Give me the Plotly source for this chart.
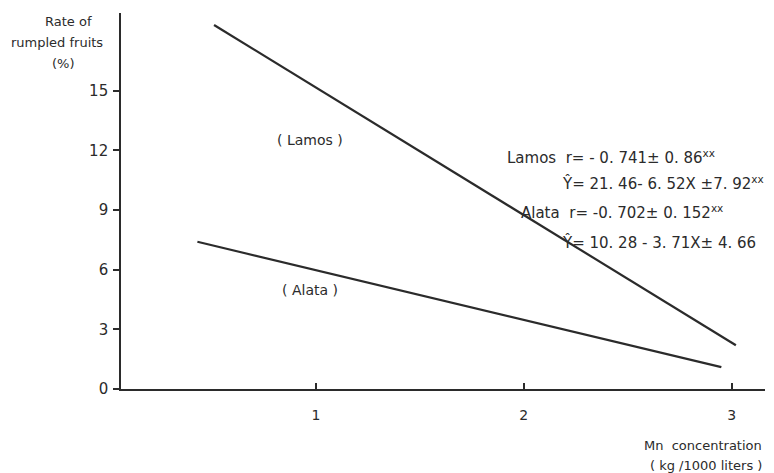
import plotly.graph_objects as go

# Data (fitted regression lines)
lamos_x = [0.51, 3.02]
lamos_y = [18.3, 2.2]
alata_x = [0.43, 2.95]
alata_y = [7.4, 1.1]

y_ticks = [0, 3, 6, 9, 12, 15]
x_ticks = [1, 2, 3]

ink = "#2b2b2b"
font = "DejaVu Sans"

# Page has an 8px body margin; plot area in page px: left 121, top 13, right 765, bottom 389
OFF = 8
PL, PT, PR, PB = 121, 13, 765, 389

fig = go.Figure()
fig.add_trace(go.Scatter(x=lamos_x, y=lamos_y, mode="lines", name="Lamos",
                         line=dict(color=ink, width=2.2)))
fig.add_trace(go.Scatter(x=alata_x, y=alata_y, mode="lines", name="Alata",
                         line=dict(color=ink, width=2.2)))

fig.update_layout(
    width=774, height=473,
    margin=dict(l=PL - OFF, r=774 - (PR - OFF), t=PT - OFF, b=473 - (PB - OFF)),
    paper_bgcolor="white", plot_bgcolor="white",
    showlegend=False,
    font=dict(family=font, color=ink, size=14),
    xaxis=dict(range=[0.0625, 3.16], tickvals=x_ticks, ticktext=[str(v) for v in x_ticks],
               showgrid=False, zeroline=False, showline=True, linecolor=ink, linewidth=1.6,
               ticks="inside", ticklen=6, tickcolor=ink, tickwidth=1.5,
               ticklabelstandoff=12,
               tickfont=dict(size=14, color=ink, family=font)),
    yaxis=dict(range=[0, 18.9], tickvals=y_ticks, ticktext=[str(v) for v in y_ticks],
               showgrid=False, zeroline=False, showline=True, linecolor=ink, linewidth=1.6,
               ticks="outside", ticklen=6, tickcolor=ink, tickwidth=1.5,
               ticklabelstandoff=2,
               tickfont=dict(size=15, color=ink, family=font)),
)


def paper(px, py):
    return (px - PL) / (PR - PL), 1 - (py - PT) / (PB - PT)


anns = [
    ("Rate of", 68, 22, "center", 13),
    ("rumpled fruits", 57, 43, "center", 13),
    ("(%)", 63, 63, "center", 13),
    ("( Lamos )", 310, 140, "center", 14),
    ("( Alata )", 310, 290, "center", 14),
    ("Lamos  r= - 0. 741± 0. 86<sup>xx</sup>", 505, 157, "left", 15),
    ("Ŷ= 21. 46- 6. 52X ±7. 92<sup>xx</sup>", 560, 183, "left", 15),
    ("Alata  r= -0. 702± 0. 152<sup>xx</sup>", 519, 212, "left", 15),
    ("Ŷ= 10. 28 - 3. 71X± 4. 66", 560, 242, "left", 15),
    ("Mn  concentration", 764, 445, "right", 13),
    ("( kg /1000 liters )", 764, 465, "right", 13),
]
for text, px, py, anchor, size in anns:
    x, y = paper(px, py)
    fig.add_annotation(text=text, x=x, y=y, xref="paper", yref="paper",
                       xanchor=anchor, yanchor="middle", align="center",
                       showarrow=False,
                       font=dict(size=size, color=ink, family=font))

fig.write_html("out.html")
